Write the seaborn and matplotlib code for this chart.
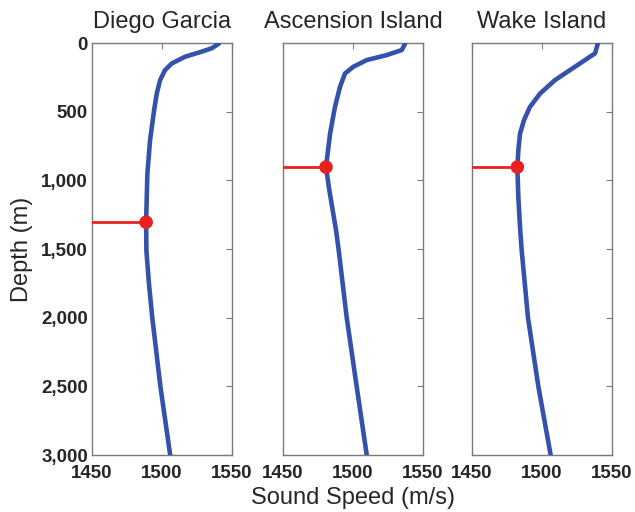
import numpy as np
import matplotlib
matplotlib.use("Agg")
import matplotlib.pyplot as plt
import seaborn as sns
import pandas as pd

STATIONS = ["Diego Garcia", "Ascension Island", "Wake Island"]

# sound speed profiles (depth in m, speed in m/s)
DG_DEPTH = [0, 7, 38, 63, 100, 149, 197, 270, 368, 489, 708, 951, 1304, 1511, 1750, 2000, 2500, 3000]
DG_SPEED = [1540.8, 1540.2, 1535.5, 1528.3, 1516.4, 1506.9, 1502.1, 1498.6, 1496.2,
            1494.3, 1491.4, 1489.5, 1488.6, 1488.8, 1490.6, 1493, 1498.8, 1505.8]

AI_DEPTH = [0, 7, 51, 88, 124, 173, 221, 319, 465, 660, 903, 1073, 1365, 1511, 2000, 2500, 3000]
AI_SPEED = [1537.3, 1537.1, 1534.8, 1524.0, 1509.8, 1500.2, 1494.3, 1490.7, 1487.1,
            1483.6, 1480.7, 1483.1, 1487.9, 1489.8, 1495.5, 1502.6, 1509.8]

WI_DEPTH = [0, 7, 75, 124, 197, 270, 368, 465, 562, 660, 781, 903, 1122, 1341, 1511, 2000, 2500, 3000]
WI_SPEED = [1539.9, 1539.8, 1537.9, 1530.7, 1520.0, 1509.3, 1498.6, 1491.4, 1487.1,
            1484.3, 1483.1, 1482.4, 1483.1, 1484.3, 1485.5, 1490, 1497.4, 1506.2]

# sound channel axis (minimum speed)
AXIS_DEPTH = [1304, 903, 903]
AXIS_SPEED = [1488.6, 1480.7, 1482.4]

X_TICKS = [1450, 1500, 1550]
Y_TICKS = [0, 500, 1000, 1500, 2000, 2500, 3000]
Y_LABELS = ["0", "500", "1,000", "1,500", "2,000", "2,500", "3,000"]

BLUE = "#3552aa"
RED = "#e8211f"
GREY = "#7a7a7a"

sns.set_style("white")
plt.rcParams["font.family"] = ["Liberation Sans", "DejaVu Sans"]

profiles = [(DG_DEPTH, DG_SPEED), (AI_DEPTH, AI_SPEED), (WI_DEPTH, WI_SPEED)]
lefts = [0.145, 0.4457, 0.7433]

fig = plt.figure(figsize=(6.35, 5.12), dpi=100)

axes = []
for i, (name, (depth, speed)) in enumerate(zip(STATIONS, profiles)):
    ax = fig.add_axes([lefts[i], 0.111, 0.2205, 0.805])
    axes.append(ax)
    df = pd.DataFrame({"depth": depth, "speed": speed})
    sns.lineplot(data=df, x="speed", y="depth", orient="y", color=BLUE,
                 lw=3.3, ax=ax, zorder=3, solid_joinstyle="round",
                 solid_capstyle="round")
    red = pd.DataFrame({"depth": [AXIS_DEPTH[i]] * 2,
                        "speed": [X_TICKS[0], AXIS_SPEED[i]]})
    sns.lineplot(data=red, x="speed", y="depth", color=RED, lw=2, ax=ax,
                 zorder=4)
    sns.scatterplot(x=[AXIS_SPEED[i]], y=[AXIS_DEPTH[i]], color=RED, s=95,
                    edgecolor="none", ax=ax, zorder=5)

    ax.set_xlim(1450, 1550)
    ax.set_ylim(3000, 0)
    ax.set_xticks(X_TICKS)
    ax.set_yticks(Y_TICKS)
    ax.set_xticklabels([str(t) for t in X_TICKS], fontweight="bold", fontsize=13.5)
    if i == 0:
        ax.set_yticklabels(Y_LABELS, fontweight="bold", fontsize=13.5)
    else:
        ax.set_yticklabels([])
    ax.tick_params(direction="in", length=4, width=0.8, color=GREY,
                   top=True, right=True, pad=3)
    ax.tick_params(axis="x", pad=7)
    for sp in ax.spines.values():
        sp.set_color(GREY)
        sp.set_linewidth(1.0)
        sp.set_visible(True)
    ax.set_xlabel("")
    ax.set_ylabel("")
    ax.set_title(name, fontsize=17, pad=11)

axes[0].set_ylabel("Depth (m)", fontsize=17, labelpad=6)
axes[1].set_xlabel("Sound Speed (m/s)", fontsize=17, labelpad=4)

fig.savefig("out.png", dpi=100, facecolor="white")
